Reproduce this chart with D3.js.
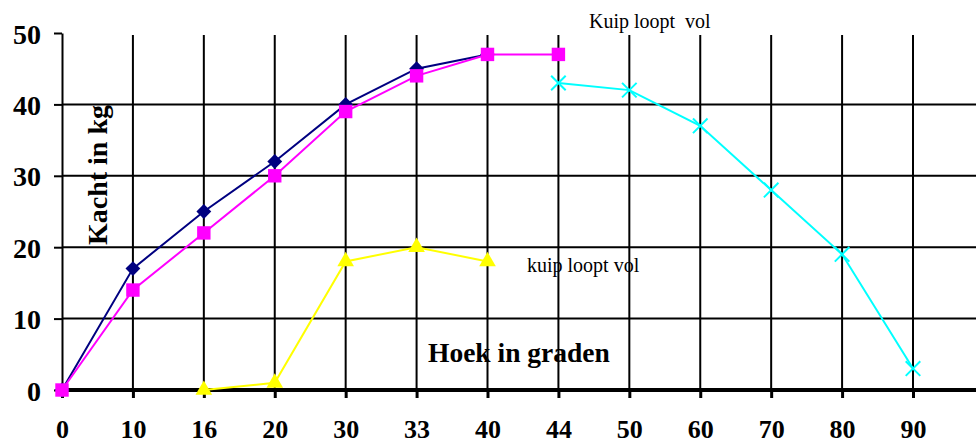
<!DOCTYPE html>
<html>
<head>
<meta charset="utf-8">
<script src="https://cdn.jsdelivr.net/npm/d3@7"></script>
<style>
  body { margin: 0; background: #fff; }
  svg text { font-family: "Liberation Serif", "Times New Roman", serif; }
</style>
</head>
<body>
<div class="graph"></div>
<script>
const w = 976;
const h = 445;

const hoeken = ["0", "10", "16", "20", "30", "33", "40", "44", "50", "60", "70", "80", "90"];
const yTicks = [0, 10, 20, 30, 40, 50];

// [hoek, kracht]
const serieBlauw = [["0", 0], ["10", 17], ["16", 25], ["20", 32], ["30", 40], ["33", 45], ["40", 47]];
const serieRoze = [["0", 0], ["10", 14], ["16", 22], ["20", 30], ["30", 39], ["33", 44], ["40", 47], ["44", 47]];
const serieGeel = [["16", 0], ["20", 1], ["30", 18], ["33", 20], ["40", 18]];
const serieCyaan = [["44", 43], ["50", 42], ["60", 37], ["70", 28], ["80", 19], ["90", 3]];

const canvas = d3.select('.graph')
  .append("svg")
  .attr("width", w)
  .attr("height", h);

const xScale = d3.scalePoint().domain(hoeken).range([62, 913]);
const yScale = d3.scaleLinear().domain([0, 50]).range([390, 33]);

// horizontal gridlines
canvas.selectAll(".hgrid")
  .data(yTicks.filter(d => d > 0 && d < 50))
  .enter().append("line")
  .attr("x1", 62).attr("x2", w)
  .attr("y1", d => yScale(d)).attr("y2", d => yScale(d))
  .attr("stroke", "black").attr("stroke-width", 2);

// vertical gridlines
canvas.selectAll(".vgrid")
  .data(hoeken.slice(1))
  .enter().append("line")
  .attr("x1", d => xScale(d)).attr("x2", d => xScale(d))
  .attr("y1", 35).attr("y2", 390)
  .attr("stroke", "black").attr("stroke-width", 2);

// y axis
const yAxis = canvas.append("g")
  .attr("transform", "translate(62,0)")
  .call(d3.axisLeft(yScale).tickValues(yTicks).tickSize(8).tickPadding(13).tickSizeOuter(0));
yAxis.select(".domain").attr("stroke", "black").attr("stroke-width", 2);
yAxis.selectAll(".tick line").attr("stroke", "black").attr("stroke-width", 2);
yAxis.selectAll("text")
  .attr("fill", "black")
  .attr("dy", "0.36em")
  .style("font-size", "28px")
  .style("font-weight", "bold")
  .style("font-family", "'Liberation Serif', serif");

// x axis
const xAxis = canvas.append("g")
  .attr("transform", "translate(0,390)")
  .call(d3.axisBottom(xScale).tickSize(8).tickSizeOuter(0));
xAxis.select(".domain").remove();
xAxis.append("line")
  .attr("x1", 62).attr("x2", w).attr("y1", 0).attr("y2", 0)
  .attr("stroke", "black").attr("stroke-width", 4);
xAxis.selectAll(".tick line").attr("stroke", "black").attr("stroke-width", 3);
xAxis.selectAll("text")
  .attr("fill", "black")
  .attr("y", 48)
  .attr("dy", 0)
  .style("font-size", "26px")
  .style("font-weight", "bold")
  .style("font-family", "'Liberation Serif', serif");

const line = d3.line()
  .x(d => xScale(d[0]))
  .y(d => yScale(d[1]));

function drawSerie(data, color, symbol, size) {
  canvas.append("path")
    .datum(data)
    .attr("d", line)
    .attr("fill", "none")
    .attr("stroke", color)
    .attr("stroke-width", 2);
  const isCross = symbol === d3.symbolX;
  canvas.selectAll(null)
    .data(data)
    .enter().append("path")
    .attr("transform", d => `translate(${xScale(d[0])},${yScale(d[1])})`)
    .attr("d", d3.symbol().type(symbol).size(size))
    .attr("fill", isCross ? "none" : color)
    .attr("stroke", color)
    .attr("stroke-width", isCross ? 2 : 0);
}

drawSerie(serieBlauw, "#000080", d3.symbolDiamond2, 140);
drawSerie(serieRoze, "#ff00ff", d3.symbolSquare, 180);
drawSerie(serieGeel, "#ffff00", d3.symbolTriangle, 120);
drawSerie(serieCyaan, "#00ffff", d3.symbolX, 140);

// labels
canvas.append("text")
  .attr("x", 589).attr("y", 28)
  .style("font-size", "20px")
  .style("white-space", "pre")
  .text("Kuip loopt  vol");

canvas.append("text")
  .attr("x", 527).attr("y", 272)
  .style("font-size", "20px")
  .text("kuip loopt vol");

canvas.append("text")
  .attr("x", 428).attr("y", 362)
  .style("font-size", "27.5px")
  .style("font-weight", "bold")
  .text("Hoek in graden");

canvas.append("text")
  .attr("transform", "rotate(-90)")
  .attr("x", -175).attr("y", 107)
  .attr("text-anchor", "middle")
  .style("font-size", "28px")
  .style("font-weight", "bold")
  .text("Kacht in kg");
</script>
</body>
</html>
